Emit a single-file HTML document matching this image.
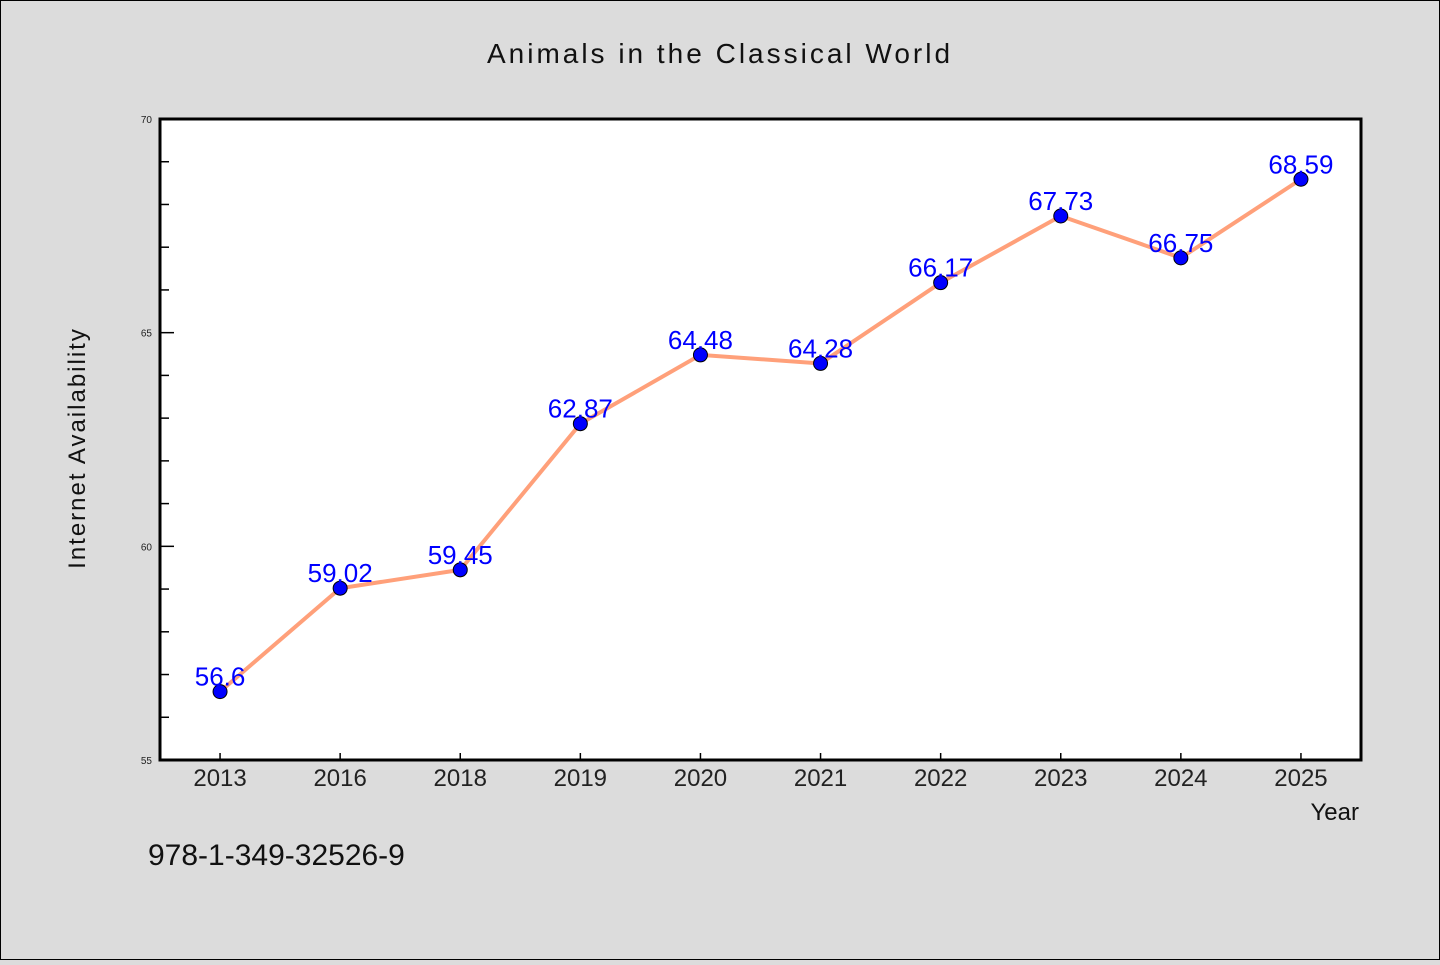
<!DOCTYPE html>
<html><head><meta charset="utf-8"><style>
html,body{margin:0;padding:0;background:#dcdcdc;}
svg text{font-family:"WenQuanYi Zen Hei","Liberation Sans",sans-serif;}
</style></head><body>
<svg width="1440" height="960" xmlns="http://www.w3.org/2000/svg">
<rect x="0.5" y="0.5" width="1439" height="959" fill="#dcdcdc" stroke="#000"/>
<text x="720" y="63" text-anchor="middle" font-size="28" letter-spacing="3" fill="#111">Animals in the Classical World</text>
<rect x="160" y="119" width="1201" height="641" fill="#fff"/>
<g id="ticks"></g>
<g id="marks"></g>
<rect x="160" y="119" width="1201" height="641" fill="none" stroke="#000" stroke-width="3"/>
<text x="85" y="448" text-anchor="middle" font-size="24" letter-spacing="2" fill="#111" transform="rotate(-90 85 448)">Internet Availability</text>
<text x="1359" y="820" text-anchor="end" font-size="24" fill="#111">Year</text>
<text x="148" y="865" font-size="30" fill="#111">978-1-349-32526-9</text>
</svg>
<script>
const categories=["2013","2016","2018","2019","2020","2021","2022","2023","2024","2025"];
const values=[56.6,59.02,59.45,62.87,64.48,64.28,66.17,67.73,66.75,68.59];
const labels=["56.6","59.02","59.45","62.87","64.48","64.28","66.17","67.73","66.75","68.59"];
const yTicks=[55,60,65,70];
const yMin=55,yMax=70;
const L=160,R=1361,T=119,B=760;
const NS="http://www.w3.org/2000/svg";
const step=(R-L)/categories.length;
const xs=i=>L+step/2+i*step;
const ys=v=>B-(v-yMin)/(yMax-yMin)*(B-T);
function mk(tag,at,parent){const e=document.createElementNS(NS,tag);for(const k in at)e.setAttribute(k,at[k]);parent.appendChild(e);return e;}
const tg=document.getElementById('ticks'),mg=document.getElementById('marks');
for(let v=yMin;v<=yMax;v++){
  const major=yTicks.includes(v);
  const t=mk('line',{x1:L,x2:L+(major?14:9),y1:ys(v),y2:ys(v),stroke:'#000','stroke-width':1.5},tg);
  
  
}
yTicks.forEach(v=>{
  const t=mk('text',{x:L-8,y:ys(v)+4,'text-anchor':'end','font-size':10,fill:'#222'},tg);
  t.textContent=v;
  
  
});
categories.forEach((c,i)=>{
  const t=mk('line',{x1:xs(i),x2:xs(i),y1:B,y2:B-7,stroke:'#000','stroke-width':1.5},tg);
  
  
  const l=mk('text',{x:xs(i),y:B+26,'text-anchor':'middle','font-size':24,fill:'#222'},tg);
  l.textContent=c;
  
  
});
const line=mk('polyline',{points:values.map((v,i)=>xs(i)+','+ys(v)).join(' '),fill:'none',stroke:'#ffa07a','stroke-width':4},mg);


values.forEach((v,i)=>{
  const p=mk('circle',{cx:xs(i),cy:ys(v),r:7,fill:'#0000ff',stroke:'#000','stroke-width':1},mg);
  
  
});
values.forEach((v,i)=>{
  const t=mk('text',{x:xs(i),y:ys(v)-6,'text-anchor':'middle','font-size':26,fill:'#0000ff'},mg);
  t.textContent=labels[i];
  
  
});
</script>
</body></html>
